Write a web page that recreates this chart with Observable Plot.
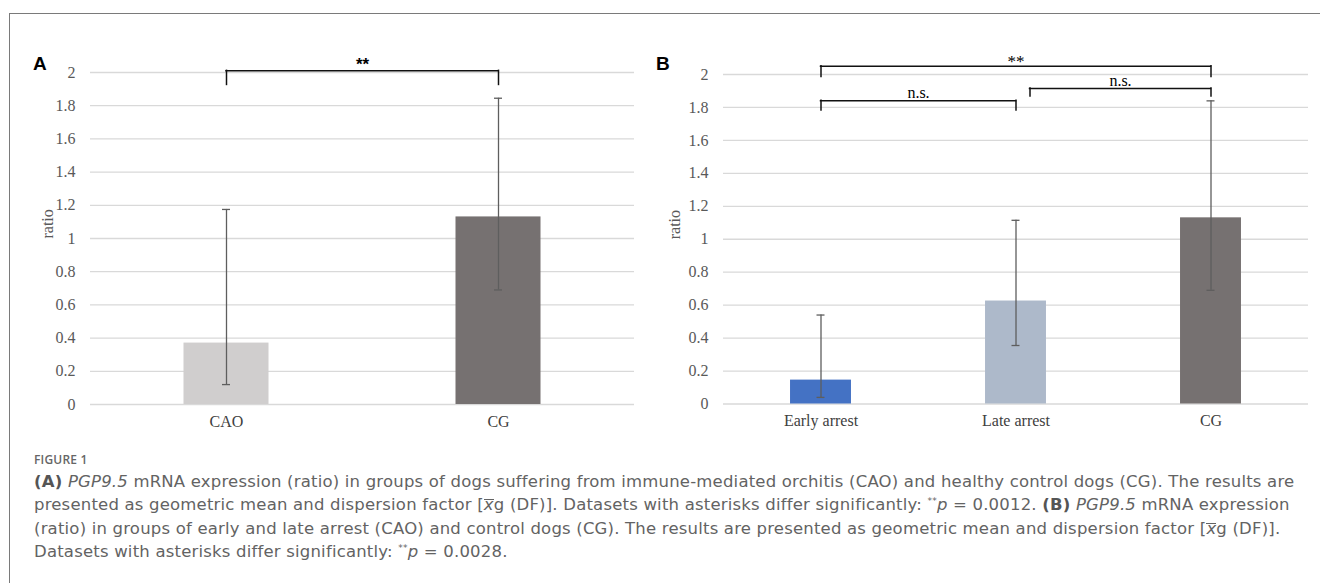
<!DOCTYPE html>
<html>
<head>
<meta charset="utf-8">
<script src="https://cdn.jsdelivr.net/npm/d3@7"></script>
<script src="https://cdn.jsdelivr.net/npm/@observablehq/plot@0.6"></script>
<style>
  html, body { margin: 0; padding: 0; background: #fff; }
  body { width: 1320px; height: 583px; overflow: hidden; position: relative; font-family: "Open Sans", sans-serif; }
  #frame { position: absolute; left: 9px; top: 13px; width: 1330px; height: 600px; border-top: 1.5px solid #7a7a7a; border-left: 1.5px solid #7a7a7a; }
  .panel { position: absolute; top: 0; }
  .plabel { position: absolute; font: bold 19px "Liberation Sans", Arial, sans-serif; color: #000; line-height: 1; }
  #caption { position: absolute; left: 34px; top: 451px; color: #636363; font-family: "DejaVu Sans", sans-serif; font-size: 15px; line-height: 23.4px; white-space: nowrap; letter-spacing: 0.2px; }
  #caption .fig { font-family: "Open Sans", sans-serif; font-size: 12px; font-weight: 600; letter-spacing: 0.2px; color: #666; line-height: 18px; margin-bottom: 1px; }
  #caption b { font-weight: 700; color: #555; }
  #caption sup { font-size: 9px; line-height: 0; vertical-align: 6px; }
  .xbar { font-style: italic; display: inline-block; line-height: 10px; border-top: 1px solid #636363; padding-top: 0px; }
</style>
</head>
<body>
<div id="frame"></div>
<div id="panelA" class="panel" style="left:0px"></div>
<div id="panelB" class="panel" style="left:640px"></div>
<div class="plabel" style="left:33px; top:54px">A</div>
<div class="plabel" style="left:656px; top:54px">B</div>
<div id="caption">
  <div class="fig">FIGURE 1</div>
  <div><span class="ln"><b>(A)</b> <i>PGP9.5</i> mRNA expression (ratio) in groups of dogs suffering from immune-mediated orchitis (CAO) and healthy control dogs (CG). The results are</span></div>
  <div><span class="ln">presented as geometric mean and dispersion factor [<span class="xbar">x</span>g (DF)]. Datasets with asterisks differ significantly: <sup>**</sup><i>p</i> = 0.0012. <b>(B)</b> <i>PGP9.5</i> mRNA expression</span></div>
  <div><span class="ln">(ratio) in groups of early and late arrest (CAO) and control dogs (CG). The results are presented as geometric mean and dispersion factor [<span class="xbar">x</span>g (DF)].</span></div>
  <div><span class="ln">Datasets with asterisks differ significantly: <sup>**</sup><i>p</i> = 0.0028.</span></div>
</div>
<script>
// ---------------- data ----------------
const groupsA = ["CAO", "CG"];
const meansA  = [0.37, 1.13];
const lowerA  = [0.12, 0.69];
const upperA  = [1.175, 1.845];
const colorsA = ["#d0cece", "#767171"];

const groupsB = ["Early arrest", "Late arrest", "CG"];
const meansB  = [0.145, 0.625, 1.13];
const lowerB  = [0.04, 0.355, 0.69];
const upperB  = [0.54, 1.115, 1.84];
const colorsB = ["#4472c4", "#adb9ca", "#767171"];

const yTicks      = [0, 0.2, 0.4, 0.6, 0.8, 1, 1.2, 1.4, 1.6, 1.8, 2];
const yTickLabels = ["0", "0.2", "0.4", "0.6", "0.8", "1", "1.2", "1.4", "1.6", "1.8", "2"];
const yTitle = "ratio";

// significance brackets: from / to category, bar level, leg drop, label
const bracketFromA = ["CAO"];
const bracketToA   = ["CG"];
const bracketYA    = [2.01];
const bracketDropA = [0.085];
const bracketLabA  = ["**"];

const bracketFromB = ["Early arrest", "Early arrest", "Late arrest"];
const bracketToB   = ["CG", "Late arrest", "CG"];
const bracketYB    = [2.05, 1.84, 1.915];
const bracketDropB = [0.065, 0.058, 0.048];
const bracketLabB  = ["**", "n.s.", "n.s."];

// ---------------- drawing ----------------
const serif = "'Liberation Serif', 'Times New Roman', serif";
const axisGray = "#595959";
const PAD_IN = 0.6875, PAD_OUT = 0.34375;

function panel({groups, means, lower, upper, colors, bFrom, bTo, bY, bDrop, bLab, width, height, ml, mr, mt, mb, starFont, shifts, titleOffset}) {
  const data = groups.map((g, i) => ({group: g, mean: means[i], lower: lower[i], upper: upper[i]}));
  const brackets = bFrom.map((f, i) => ({from: f, to: bTo[i], y: bY[i], drop: bDrop[i], label: bLab[i]}));
  const xs = Plot.scale({x: {type: "band", domain: groups, range: [ml, width - mr], paddingInner: PAD_IN, paddingOuter: PAD_OUT, align: 0.5, round: false}});
  const half = xs.bandwidth / 2;
  const capInset = (xs.bandwidth - 8) / 2;
  const bracketMarks = brackets.flatMap((b, i) => {
    const shift = shifts[i] || 0;
    const span = xs.apply(b.to) - xs.apply(b.from);
    const isStar = b.label === "**";
    const common = {stroke: "#111", strokeWidth: 1.5, strokeLinecap: "square"};
    return [
      Plot.ruleY([b], {y: "y", x1: "from", x2: "to", insetLeft: half + shift, insetRight: half, ...common}),
      Plot.ruleX([b], {x: "from", y1: "y", y2: d => d.y - d.drop, dx: shift, ...common}),
      Plot.ruleX([b], {x: "to", y1: "y", y2: d => d.y - d.drop, ...common}),
      Plot.text([b], {x: "from", y: "y", text: "label", dx: (span + shift) / 2,
        dy: isStar ? starFont.dy : -3, lineAnchor: "bottom", fill: "#000",
        fontFamily: isStar ? starFont.family : serif, fontWeight: isStar ? starFont.weight : "normal",
        fontSize: isStar ? starFont.size : 16})
    ];
  });
  return Plot.plot({
    width, height,
    marginLeft: ml, marginRight: mr, marginTop: mt, marginBottom: mb,
    style: {fontFamily: serif, fontSize: "16px", color: axisGray, background: "transparent", overflow: "visible"},
    x: {domain: groups, paddingInner: PAD_IN, paddingOuter: PAD_OUT, align: 0.5, round: false, label: null},
    y: {domain: [0, 2], label: null},
    color: {domain: groups, range: colors},
    marks: [
      Plot.gridY(yTicks, {stroke: "#d9d9d9", strokeOpacity: 1, strokeWidth: 1.3}),
      Plot.axisY({ticks: yTicks, tickFormat: (d) => yTickLabels[yTicks.indexOf(d)], tickSize: 0, tickPadding: 15, fontSize: 16, fontFamily: serif, label: null}),
      Plot.axisX({tickSize: 0, tickPadding: 11, fontSize: 16, fontFamily: serif, label: null, fill: "#404040"}),
      Plot.text([yTitle], {text: d => d, frameAnchor: "left", rotate: -90, dx: -titleOffset, fontSize: 16, fontFamily: serif, fill: axisGray}),
      Plot.barY(data, {x: "group", y: "mean", fill: "group"}),
      Plot.ruleX(data, {x: "group", y1: "lower", y2: "upper", stroke: "#5e5e5e", strokeWidth: 1.3}),
      Plot.tickY(data, {x: "group", y: "upper", insetLeft: capInset, insetRight: capInset, stroke: "#5e5e5e", strokeWidth: 1.3}),
      Plot.tickY(data, {x: "group", y: "lower", insetLeft: capInset, insetRight: capInset, stroke: "#5e5e5e", strokeWidth: 1.3}),
      ...bracketMarks
    ]
  });
}

document.getElementById("panelA").append(panel({
  groups: groupsA, means: meansA, lower: lowerA, upper: upperA, colors: colorsA,
  bFrom: bracketFromA, bTo: bracketToA, bY: bracketYA, bDrop: bracketDropA, bLab: bracketLabA,
  width: 640, height: 440, ml: 90, mr: 6, mt: 72, mb: 36, titleOffset: 43,
  starFont: {family: "'Liberation Sans', Arial, sans-serif", weight: "bold", size: 17, dy: -1}, shifts: []
}));
document.getElementById("panelB").append(panel({
  groups: groupsB, means: meansB, lower: lowerB, upper: upperB, colors: colorsB,
  bFrom: bracketFromB, bTo: bracketToB, bY: bracketYB, bDrop: bracketDropB, bLab: bracketLabB,
  width: 680, height: 440, ml: 83, mr: 12, mt: 74, mb: 36.5, titleOffset: 49,
  starFont: {family: serif, weight: "normal", size: 17, dy: 1}, shifts: [0, 0, 14]
}));

// fit caption font size so that the first line reaches the reference right edge
function fitCaption() {
  const cap = document.getElementById("caption");
  const first = document.querySelector("#caption .ln");
  cap.style.fontSize = "15px";
  const r = first.getBoundingClientRect();
  const target = 1298 - r.left;
  const fs = Math.max(13, Math.min(17, 15 * target / r.width));
  cap.style.fontSize = fs.toFixed(2) + "px";
}
fitCaption();
if (document.fonts && document.fonts.ready) document.fonts.ready.then(fitCaption);
</script>
</body>
</html>
